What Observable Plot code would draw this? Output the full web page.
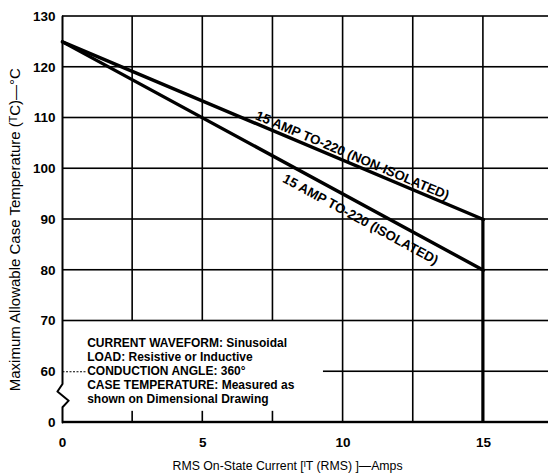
<!DOCTYPE html>
<html>
<head>
<meta charset="utf-8">
<script src="https://cdn.jsdelivr.net/npm/d3@7"></script>
<script src="https://cdn.jsdelivr.net/npm/@observablehq/plot@0.6"></script>
<style>
  html, body { margin: 0; padding: 0; background: #fff; }
</style>
</head>
<body>
<div id="chart"></div>
<script>
// ---- data ----
const currentAmps = [0, 15];
const nonIsolatedTemp = [125, 90];
const isolatedTemp = [125, 80];
const xTicks = [0, 5, 10, 15];
const yTicks = [50, 60, 70, 80, 90, 100, 110, 120, 130];
const yTickLabels = ["0", "60", "70", "80", "90", "100", "110", "120", "130"];
const xGrid = [2.5, 5, 7.5, 10, 12.5, 15];
const yGrid = [70, 80, 90, 100, 110, 120, 130];
const seriesLabels = ["15 AMP TO-220 (NON-ISOLATED)", "15 AMP TO-220 (ISOLATED)"];
const noteLines = [
  "CURRENT WAVEFORM: Sinusoidal",
  "LOAD: Resistive or Inductive",
  "CONDUCTION ANGLE: 360°",
  "CASE TEMPERATURE: Measured as",
  "shown on Dimensional Drawing"
];
const xTitle = "RMS On-State Current [ᴵT (RMS) ]—Amps";
const yTitle = "Maximum Allowable Case Temperature (ᵀC)—°C";
// y-axis line with break (x in amps, y in °C scale units)
const axisBreakX = [0, 0, -0.18, 0.22, 0, 0];
const axisBreakY = [130, 57.6, 56.1, 54.3, 53.0, 50];

const xMax = 17.32;
const nonIso = currentAmps.map((x, i) => ({x, y: nonIsolatedTemp[i]}));
const iso = currentAmps.map((x, i) => ({x, y: isolatedTemp[i]}));
const axisLine = axisBreakX.map((x, i) => ({x, y: axisBreakY[i]}));

// grid segments built from the grid arrays (note box blanks the lower-left area)
const hSegs = yGrid.map(y => ({x1: 0, x2: xMax, y1: y, y2: y}))
  .concat([{x1: 9.3, x2: xMax, y1: 60, y2: 60}]);
const vSegs = xGrid.filter(v => v !== 15).map(x => ({x1: x, x2: x, y1: x < 10 ? 70 : 50, y2: 130}))
  .concat(xGrid.filter(v => v < 10).map(x => ({x1: x, x2: x, y1: 50, y2: 52.2})))
  .concat([{x1: 15, x2: 15, y1: 90, y2: 130}]);
const thickSegs = [{x1: 15, x2: 15, y1: 50, y2: 90}, {x1: 0, x2: xMax, y1: 50, y2: 50}];
const dashTick = [{x1: 0, x2: 0.85, y1: 60, y2: 60}];

const FONT = "Liberation Sans, Arial, sans-serif";

const chart = Plot.plot({
  width: 548,
  height: 476,
  marginLeft: 62,
  marginRight: 0,
  marginTop: 16,
  marginBottom: 54,
  x: {domain: [0, xMax], label: null},
  y: {domain: [50, 130], label: null},
  style: {fontFamily: FONT, color: "black", background: "white"},
  marks: [
    // grid as thin filled bars
    Plot.rect(hSegs, {x1: "x1", x2: "x2", y1: "y1", y2: "y2", fill: "black",
      insetTop: -0.8, insetBottom: -0.8}),
    Plot.rect(vSegs, {x1: "x1", x2: "x2", y1: "y1", y2: "y2", fill: "black",
      insetLeft: -0.8, insetRight: -0.8}),
    Plot.rect(thickSegs.slice(0, 1), {x1: "x1", x2: "x2", y1: "y1", y2: "y2", fill: "black",
      insetLeft: -1.6, insetRight: -1.6}),
    Plot.rect(thickSegs.slice(1), {x1: "x1", x2: "x2", y1: "y1", y2: "y2", fill: "black",
      insetTop: -1.2, insetBottom: -1.2}),
    Plot.axisX({ticks: xTicks, tickSize: 0, tickPadding: 15, fontSize: 13.5, fontWeight: "bold", tickFormat: d => String(d)}),
    Plot.axisY({ticks: yTicks, tickSize: 0, tickPadding: 7, fontSize: 13.5, fontWeight: "bold",
                tickFormat: d => yTickLabels[yTicks.indexOf(d)]}),
    Plot.link(dashTick, {x1: "x1", x2: "x2", y1: "y1", y2: "y2", stroke: "black", strokeWidth: 1.2, strokeDasharray: "2,1.5"}),
    Plot.line(axisLine, {x: "x", y: "y", stroke: "black", strokeWidth: 2}),
    Plot.line(nonIso, {x: "x", y: "y", stroke: "black", strokeWidth: 3.4}),
    Plot.line(iso, {x: "x", y: "y", stroke: "black", strokeWidth: 3.4}),
    // series labels
    Plot.text([seriesLabels[0]], {x: 10.33, y: 102.6, text: d => d, rotate: 22.9, fontSize: 13.3,
      fontWeight: "bold", fill: "black", fontFamily: FONT}),
    Plot.text([seriesLabels[1]], {x: 10.62, y: 90.0, text: d => d, rotate: 28.6, fontSize: 13.3,
      fontWeight: "bold", fill: "black", fontFamily: FONT}),
    // notes
    Plot.text(noteLines, {x: 0.88, y: (d, i) => 65.6 - i * 2.75, text: d => d, textAnchor: "start",
      fontSize: 12, fontWeight: "bold", fill: "black", fontFamily: FONT}),
    // axis titles
    Plot.text([xTitle], {x: 8.02, y: 50, dy: 44, text: d => d, fontSize: 12.3, fill: "black", fontFamily: FONT}),
    Plot.text([yTitle], {x: 0, y: 88, dx: -47, text: d => d, rotate: -90, fontSize: 15,
      fill: "black", fontFamily: FONT})
  ]
});
document.getElementById("chart").appendChild(chart);
</script>
</body>
</html>
